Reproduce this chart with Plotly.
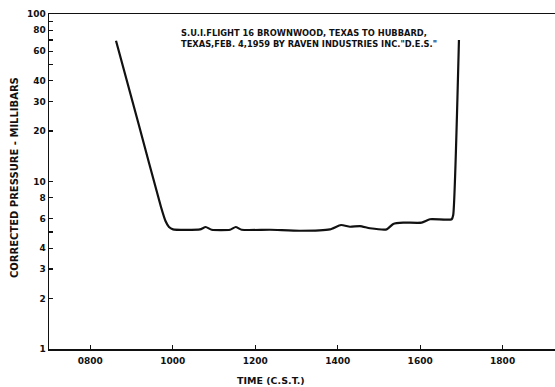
import plotly.graph_objects as go

# Time in hours (C.S.T.), pressure in millibars
time_h = [8.625, 9.171, 9.716, 9.825, 9.910, 10.007, 10.662, 10.80, 10.945,
          11.389, 11.527, 11.673, 12.359, 13.086, 13.813, 14.080, 14.298, 14.540,
          14.783, 15.188, 15.348, 15.590, 16.036, 16.238, 16.764, 16.802, 16.941]
pressure_mb = [69.3, 22.1, 7.04, 5.81, 5.35, 5.18, 5.18, 5.35, 5.15,
               5.15, 5.35, 5.15, 5.15, 5.08, 5.18, 5.50, 5.37, 5.42,
               5.26, 5.18, 5.58, 5.68, 5.68, 5.95, 5.95, 6.31, 69.9]

x_tick_vals = [8, 10, 12, 14, 16, 18]
x_tick_text = ["0800", "1000", "1200", "1400", "1600", "1800"]
y_tick_vals = [1, 2, 3, 4, 5, 6, 8, 10, 20, 30, 40, 50, 60, 70, 80, 90, 100]
y_tick_text = ["1", "2", "3", "4", "", "6", "8", "10", "20", "30", "40", "", "60", "", "80", "", "100"]

FONT = "DejaVu Sans"

fig = go.Figure()
fig.add_trace(go.Scatter(
    x=time_h, y=pressure_mb, mode="lines",
    line=dict(color="#111111", width=2.2, shape="spline", smoothing=0.5),
    hoverinfo="skip", showlegend=False,
))

fig.update_layout(
    width=555, height=387,
    margin=dict(l=49, r=0, t=14, b=38),
    paper_bgcolor="white", plot_bgcolor="white",
    font=dict(family=FONT, color="#111111", size=9),
    xaxis=dict(
        range=[7, 19.27], tickvals=x_tick_vals, ticktext=x_tick_text,
        ticks="inside", ticklen=4, tickwidth=1.2, tickcolor="#111111",
        showline=True, linecolor="#111111", linewidth=1.5, mirror=True,
        showgrid=False, zeroline=False, ticklabelstandoff=3,
        tickfont=dict(family=FONT, size=9, color="#111111", weight="bold"),
    ),
    yaxis=dict(
        type="log", range=[0, 2], tickvals=y_tick_vals, ticktext=y_tick_text,
        ticks="inside", ticklen=4, tickwidth=1.2, tickcolor="#111111",
        showline=True, linecolor="#111111", linewidth=1.5,
        showgrid=False, zeroline=False,
        tickfont=dict(family=FONT, size=9, color="#111111", weight="bold"),
    ),
    annotations=[
        dict(text="S.U.I.FLIGHT 16 BROWNWOOD, TEXAS TO HUBBARD,<br>TEXAS,FEB. 4,1959 BY RAVEN INDUSTRIES INC.\"D.E.S.\"",
             xref="paper", yref="paper", x=(179 - 49) / 506, y=(349 - 26) / 335,
             xanchor="left", yanchor="top", align="left", showarrow=False,
             font=dict(family=FONT, size=8.3, color="#111111", weight="bold")),
        dict(text="TIME (C.S.T.)", xref="paper", yref="paper",
             x=(271 - 49) / 506, y=(349 - 380) / 335, xanchor="center", yanchor="middle",
             showarrow=False, font=dict(family=FONT, size=9.5, color="#111111", weight="bold")),
        dict(text="CORRECTED PRESSURE - MILLIBARS", xref="paper", yref="paper",
             x=(15 - 49) / 506, y=(349 - 178) / 335, xanchor="center", yanchor="middle",
             textangle=-90, showarrow=False,
             font=dict(family=FONT, size=10, color="#111111", weight="bold")),
    ],
)

fig.write_html("out.html", config={"displayModeBar": False, "staticPlot": True},
               post_script="document.body.style.margin='0';document.body.style.overflow='hidden';")
